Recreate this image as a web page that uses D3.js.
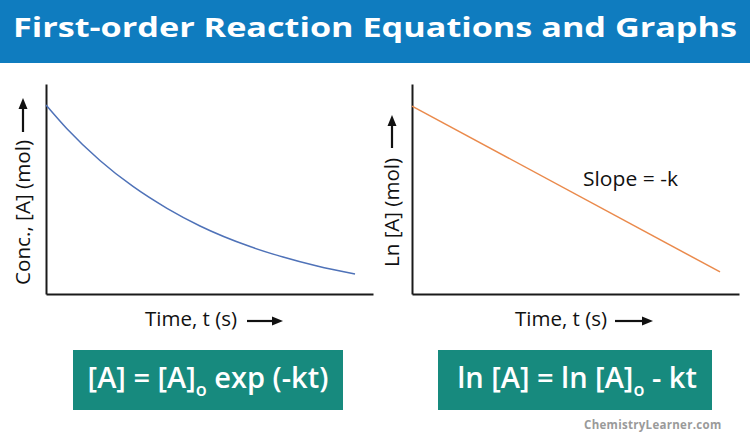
<!DOCTYPE html>
<html><head><meta charset="utf-8">
<script src="https://cdn.jsdelivr.net/npm/d3@7"></script>
<style>
html,body{margin:0;padding:0;background:#fff;}
svg{display:block;}
text{font-family:"Open Sans","Noto Sans",sans-serif;}
</style></head>
<body><svg id="c" width="750" height="440"></svg>
<script>
// ---- data ----
const title = "First-order Reaction Equations and Graphs";
const concTime = [0, 0.64, 1.65, 2.66, 3.70, 4.71, 6.24, 7.25, 8.29, 9.45];
const concValues = [0.900, 0.787, 0.636, 0.512, 0.408, 0.324, 0.226, 0.176, 0.133, 0.095];
const lnTime = [0, 9.42];
const lnValues = [0.895, 0.105];
const leftYLabel = "Conc., [A] (mol)";
const rightYLabel = "Ln [A] (mol)";
const xLabel = "Time, t (s)";
const slopeLabel = "Slope = -k";
const watermark = "ChemistryLearner.com";

const svg = d3.select("#c");

// title bar
svg.append("rect").attr("x",0).attr("y",0).attr("width",750).attr("height",63).attr("fill","#0f7cbf");
svg.append("text").attr("x",375).attr("y",37).attr("text-anchor","middle")
  .attr("fill","#fff").attr("font-weight",700).attr("font-size",26.5)
  .attr("textLength",724).attr("lengthAdjust","spacingAndGlyphs").text(title);

const axisColor = "#1a1a1a";

function panel(opts){
  const x = d3.scaleLinear().domain([0,10]).range([opts.x0, opts.x1]);
  const y = d3.scaleLinear().domain([0,1]).range([294, 84]);
  const g = svg.append("g");
  g.append("g").attr("transform",`translate(${opts.x0},0)`)
    .call(d3.axisLeft(y).ticks(0).tickSizeOuter(0))
    .call(s=>s.select(".domain").attr("stroke",axisColor).attr("stroke-width",2));
  g.append("g").attr("transform",`translate(0,294)`)
    .call(d3.axisBottom(x).ticks(0).tickSizeOuter(0))
    .call(s=>s.select(".domain").attr("stroke",axisColor).attr("stroke-width",2.2));
  const pts = opts.t.map((t,i)=>[t, opts.v[i]]);
  g.append("path").datum(pts)
    .attr("d", d3.line().x(d=>x(d[0])).y(d=>y(d[1])).curve(d3.curveMonotoneX))
    .attr("fill","none").attr("stroke",opts.color).attr("stroke-width",1.5);
  return {x,y,g};
}

panel({x0:46, x1:373, t:concTime, v:concValues, color:"#4f72b8"});
panel({x0:412, x1:739, t:lnTime, v:lnValues, color:"#ea8a4c"});

function hArrow(x1,x2,yy){
  svg.append("line").attr("x1",x1).attr("x2",x2-7).attr("y1",yy).attr("y2",yy).attr("stroke","#111").attr("stroke-width",2.2);
  svg.append("path").attr("d",`M${x2},${yy} L${x2-11},${yy-4.5} L${x2-11},${yy+4.5} Z`).attr("fill","#111");
}
function vArrow(xx,y1,y2){ // y2 top (tip)
  svg.append("line").attr("x1",xx).attr("x2",xx).attr("y1",y1).attr("y2",y2+7).attr("stroke","#111").attr("stroke-width",2.2);
  svg.append("path").attr("d",`M${xx},${y2} L${xx-4.5},${y2+11} L${xx+4.5},${y2+11} Z`).attr("fill","#111");
}

const lab = {size:20, fill:"#111"};
// x labels
svg.append("text").attr("x",145).attr("y",326).attr("font-size",lab.size).attr("fill",lab.fill)
  .attr("textLength",92).attr("lengthAdjust","spacingAndGlyphs").text(xLabel);
hArrow(247,283,321);
svg.append("text").attr("x",515).attr("y",326).attr("font-size",lab.size).attr("fill",lab.fill)
  .attr("textLength",92).attr("lengthAdjust","spacingAndGlyphs").text(xLabel);
hArrow(615,653,321);

// y labels
svg.append("text").attr("transform","translate(30,285) rotate(-90)").attr("font-size",lab.size).attr("fill",lab.fill)
  .attr("textLength",145).attr("lengthAdjust","spacingAndGlyphs").text(leftYLabel);
vArrow(23,132,98);
svg.append("text").attr("transform","translate(399,267) rotate(-90)").attr("font-size",lab.size).attr("fill",lab.fill)
  .attr("textLength",109).attr("lengthAdjust","spacingAndGlyphs").text(rightYLabel);
vArrow(392,148,115);

// slope label
svg.append("text").attr("x",583).attr("y",186).attr("font-size",lab.size).attr("fill",lab.fill)
  .attr("textLength",95).attr("lengthAdjust","spacingAndGlyphs").text(slopeLabel);

// formula boxes
const teal = "#178a7e";
svg.append("rect").attr("x",73).attr("y",350).attr("width",270).attr("height",60).attr("fill",teal);
svg.append("rect").attr("x",438).attr("y",350).attr("width",274).attr("height",60).attr("fill",teal);

function formula(cx, parts){
  const t = svg.append("text").attr("x",cx).attr("y",388).attr("text-anchor","middle")
    .attr("fill","#fff").attr("font-weight",600).attr("font-size",29);
  parts.forEach(p=>{
    const s = t.append("tspan").text(p.text);
    if(p.sub){ s.attr("font-size",18).attr("dy",8); }
    if(p.after){ s.attr("dy",-8); }
  });
}
formula(208, [{text:"[A] = [A]"},{text:"o",sub:true},{text:" exp (-kt)",after:true}]);
formula(577, [{text:"ln [A] = ln [A]"},{text:"o",sub:true},{text:" - kt",after:true}]);

// watermark
svg.append("text").attr("x",584).attr("y",429).attr("font-size",11.5).attr("font-weight",700)
  .attr("fill","#9a9a9a").attr("letter-spacing",0.8).attr("textLength",138).text(watermark);
</script></body></html>
